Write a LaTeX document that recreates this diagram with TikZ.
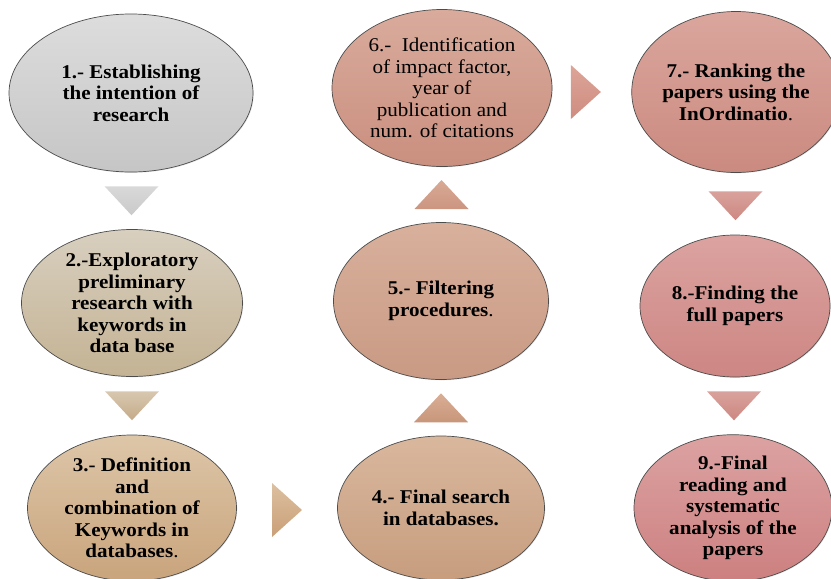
\documentclass[tikz,border=0pt]{standalone}
\usepackage{fontspec}
\setmainfont{Liberation Serif}[FakeStretch=1.08]
\usetikzlibrary{shapes.geometric,calc,shadows}

\begin{document}
\begin{tikzpicture}[x=1pt,y=-1pt,
    stepnode/.style={ellipse,draw=gray!60!black,line width=0.7pt,inner sep=0pt,align=center,
        shading=axis,drop shadow={shadow xshift=0.8pt,shadow yshift=-0.8pt,opacity=0.2},
        font=\bfseries\fontsize{19.5}{21.5}\selectfont},
    tri/.style={draw=none}]
    \useasboundingbox (0,0) rectangle (831,579);

    % Steps
    \node[stepnode,minimum width=244,minimum height=158,top color=gray!27,bottom color=gray!45]
        (s1) at (131,93) {1.- Establishing\\the intention of\\research};
    \node[stepnode,minimum width=221,minimum height=147,top color={rgb,255:red,216;green,207;blue,191},bottom color={rgb,255:red,196;green,179;blue,148}]
        (s2) at (132,303) {2.-Exploratory\\preliminary\\research with\\keywords in\\data base};
    \node[stepnode,minimum width=209,minimum height=146,top color={rgb,255:red,221;green,198;blue,168},bottom color={rgb,255:red,201;green,164;blue,124}]
        (s3) at (132,508) {3.- Definition\\and\\combination of\\Keywords in\\databases\textmd{.}};
    \node[stepnode,minimum width=207,minimum height=144,top color={rgb,255:red,217;green,183;blue,157},bottom color={rgb,255:red,199;green,157;blue,126}]
        (s4) at (441,508) {4.- Final search\\in databases.};
    \node[stepnode,minimum width=215,minimum height=157,top color={rgb,255:red,216;green,176;blue,156},bottom color={rgb,255:red,201;green,154;blue,132}]
        (s5) at (441,301) {5.- Filtering\\procedures\textmd{.}};
    \node[stepnode,minimum width=220,minimum height=157,top color={rgb,255:red,217;green,171;blue,156},bottom color={rgb,255:red,202;green,143;blue,127},
        font=\mdseries\fontsize{19.5}{21.5}\selectfont]
        (s6) at (442,88) {6.-\ \ Identification\\of impact factor,\\year of\\publication and\\num. of citations};
    \node[stepnode,minimum width=192,minimum height=161,top color={rgb,255:red,218;green,166;blue,157},bottom color={rgb,255:red,203;green,138;blue,128}]
        (s7) at (736,92) {7.- Ranking the\\papers using the\\InOrdinatio\textmd{.}};
    \node[stepnode,minimum width=190,minimum height=142,top color={rgb,255:red,219;green,163;blue,160},bottom color={rgb,255:red,205;green,134;blue,131}]
        (s8) at (735,306) {8.-Finding the\\full papers};
    \node[stepnode,minimum width=198,minimum height=146,top color={rgb,255:red,220;green,162;blue,162},bottom color={rgb,255:red,205;green,128;blue,128}]
        (s9) at (733,508) {9.-Final\\reading and\\systematic\\analysis of the\\papers};

    % Arrow positions
    \coordinate (a12) at ($(s1.south)!0.5!(s2.north)$);
    \coordinate (a23) at ($(s2.south)!0.5!(s3.north)$);
    \coordinate (a34) at ($(s3.east)!0.5!(s4.west)+(0,2)$);
    \coordinate (a45) at ($(s4.north)!0.5!(s5.south)$);
    \coordinate (a56) at ($(s5.north)!0.5!(s6.south)$);
    \coordinate (a67) at ($(s6.east)!0.5!(s7.west)+(-6,2)$);
    \coordinate (a78) at ($(s7.south)!0.5!(s8.north)+(0,2)$);
    \coordinate (a89) at ($(s8.south)!0.5!(s9.north)$);

    % Down arrows
    \foreach \a/\ct/\cb in {a12/{gray!30}/{gray!42},
        a23/{rgb,255:red,216;green,200;blue,176}/{rgb,255:red,196;green,170;blue,136},
        a78/{rgb,255:red,217;green,162;blue,156}/{rgb,255:red,205;green,135;blue,129},
        a89/{rgb,255:red,217;green,162;blue,156}/{rgb,255:red,205;green,135;blue,129}} {
        \shade[tri,top color=\ct,bottom color=\cb] ($(\a)+(-27,-14.5)$) -- ($(\a)+(27,-14.5)$) -- ($(\a)+(0,14.5)$) -- cycle;
    }

    % Up arrows
    \foreach \a/\ct/\cb in {a45/{rgb,255:red,217;green,174;blue,149}/{rgb,255:red,200;green,150;blue,122},
        a56/{rgb,255:red,216;green,170;blue,150}/{rgb,255:red,204;green,149;blue,128}} {
        \shade[tri,top color=\ct,bottom color=\cb] ($(\a)+(-27,14.5)$) -- ($(\a)+(27,14.5)$) -- ($(\a)+(0,-14.5)$) -- cycle;
    }

    % Right arrows
    \foreach \a/\ct/\cb in {a34/{rgb,255:red,220;green,192;blue,160}/{rgb,255:red,201;green,159;blue,119},
        a67/{rgb,255:red,220;green,165;blue,152}/{rgb,255:red,207;green,140;blue,128}} {
        \shade[tri,top color=\ct,bottom color=\cb] ($(\a)+(-15,-27)$) -- ($(\a)+(-15,27)$) -- ($(\a)+(15,0)$) -- cycle;
    }
\end{tikzpicture}
\end{document}
